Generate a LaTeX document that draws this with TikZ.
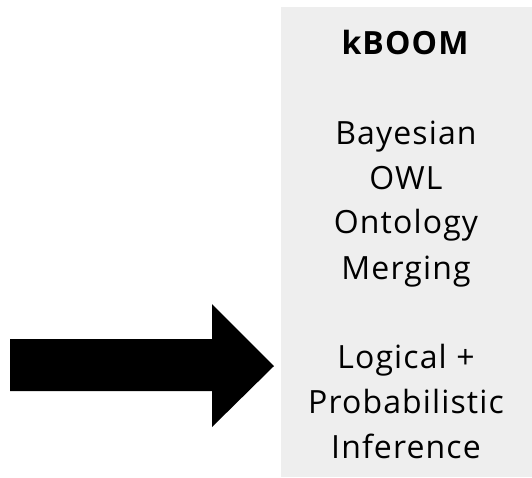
\documentclass[tikz,border=0pt]{standalone}
\usepackage{fontspec}
\setmainfont{Open Sans}[LetterSpace=3.5]
\begin{document}
\begin{tikzpicture}[x=1pt,y=-1pt,
  txt/.style={font=\fontsize{32}{45}\selectfont, text=black, inner sep=0pt, anchor=base},
  ttl/.style={font=\fontsize{32}{45}\selectfont\bfseries, text=black, inner sep=0pt, anchor=base}]
\useasboundingbox (0,0) rectangle (532,477);
\fill[fill={rgb,255:red,238;green,238;blue,238}] (281,7) rectangle (532,477);
\node[ttl] (title) at (405,54) {kBOOM};
\node[txt] (l1) at (406,144) {Bayesian};
\node[txt] (l2) at (406,189) {OWL};
\node[txt] (l3) at (406,233) {Ontology};
\node[txt] (l4) at (406,279) {Merging};
\node[txt] (l5) at (406,368) {Logical +};
\node[txt] (l6) at (406,413) {Probabilistic};
\node[txt] (l7) at (406,458) {Inference};
\fill[black] (10,339) -- (212,339) -- (212,304) -- (274,366) -- (212,427) -- (212,391) -- (10,391) -- cycle;
\end{tikzpicture}
\end{document}
